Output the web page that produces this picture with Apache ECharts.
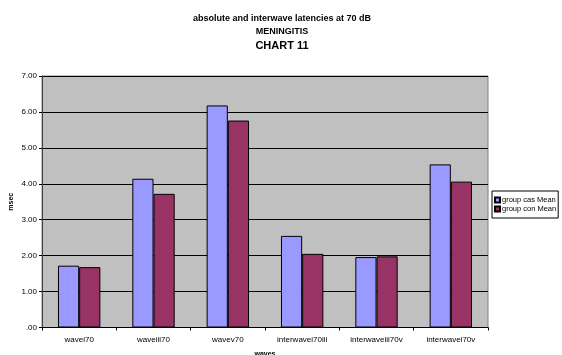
<!DOCTYPE html>
<html>
<head>
<meta charset="utf-8">
<script src="https://cdn.jsdelivr.net/npm/echarts@6/dist/echarts.min.js"></script>
<style>
  html, body { margin: 0; padding: 0; background: #fff; }
  #chart { width: 562px; height: 355px; }
</style>
</head>
<body>
<div id="chart"></div>
<script>
// Wave latencies (msec) at 70 dB
const categories = ['wavei70', 'waveiii70', 'wavev70', 'interwavei70iii', 'interwaveiii70v', 'interwavei70v'];
const casMean = [1.72, 4.14, 6.18, 2.55, 1.96, 4.54];
const conMean = [1.68, 3.72, 5.76, 2.05, 1.98, 4.06];
const seriesNames = ['group cas Mean', 'group con Mean'];

const font = 'Liberation Sans, Arial, sans-serif';

const chart = echarts.init(document.getElementById('chart'), null, { renderer: 'canvas' });

chart.setOption({
  animation: false,
  backgroundColor: '#ffffff',
  title: [
    { text: 'absolute and interwave latencies at 70 dB', left: 282, top: 14, textAlign: 'center', padding: 0,
      textStyle: { fontFamily: font, fontSize: 9, lineHeight: 9, fontWeight: 'bold', color: '#000' } },
    { text: 'MENINGITIS', left: 282, top: 27, textAlign: 'center', padding: 0,
      textStyle: { fontFamily: font, fontSize: 9, lineHeight: 9, fontWeight: 'bold', color: '#000' } },
    { text: 'CHART 11', left: 282, top: 40, textAlign: 'center', padding: 0,
      textStyle: { fontFamily: font, fontSize: 11, lineHeight: 11, fontWeight: 'bold', color: '#000' } }
  ],
  legend: {
    orient: 'vertical',
    left: 492, top: 191,
    padding: [5, 2, 5, 2],
    itemGap: 1,
    itemWidth: 5, itemHeight: 5,
    backgroundColor: '#fff',
    borderColor: '#000', borderWidth: 1,
    icon: 'rect',
    textStyle: { fontFamily: font, fontSize: 7.5, lineHeight: 8, color: '#000', padding: [0, 0, 0, -3] },
    data: seriesNames
  },
  grid: {
    left: 42, right: 74, top: 76, bottom: 27.5,
    show: true,
    backgroundColor: '#c0c0c0',
    borderColor: '#808080', borderWidth: 1,
    containLabel: false,
    outerBoundsMode: 'none'
  },
  xAxis: {
    type: 'category',
    data: categories,
    name: 'waves',
    nameLocation: 'middle',
    nameGap: 23,
    nameTextStyle: { fontFamily: font, fontSize: 7, fontWeight: 'bold', color: '#000' },
    axisLine: { lineStyle: { color: '#000', width: 1 } },
    axisTick: { show: true, length: 3, lineStyle: { color: '#000' } },
    axisLabel: { fontFamily: font, fontSize: 8, color: '#000', margin: 8, interval: 0 }
  },
  yAxis: {
    type: 'value',
    min: 0, max: 7, interval: 1,
    name: 'msec',
    nameLocation: 'middle',
    nameGap: 27,
    nameMoveOverlap: false,
    nameRotate: 90,
    nameTextStyle: { fontFamily: font, fontSize: 7, fontWeight: 'bold', color: '#000' },
    axisLine: { show: true, lineStyle: { color: '#404040', width: 1 } },
    axisTick: { show: true, length: 3, lineStyle: { color: '#000' } },
    axisLabel: {
      fontFamily: font, fontSize: 8, color: '#000', margin: 5,
      formatter: v => (v === 0 ? '.00' : v.toFixed(2))
    },
    splitLine: { show: true, lineStyle: { color: '#000', width: 1 } }
  },
  series: [
    {
      name: seriesNames[0], type: 'bar', data: casMean,
      barGap: '0%', barCategoryGap: '43%',
      itemStyle: { color: '#9999ff', borderColor: '#000', borderWidth: 1 }
    },
    {
      name: seriesNames[1], type: 'bar', data: conMean,
      barGap: '0%', barCategoryGap: '43%',
      itemStyle: { color: '#993366', borderColor: '#000', borderWidth: 1 }
    }
  ]
});
</script>
</body>
</html>
